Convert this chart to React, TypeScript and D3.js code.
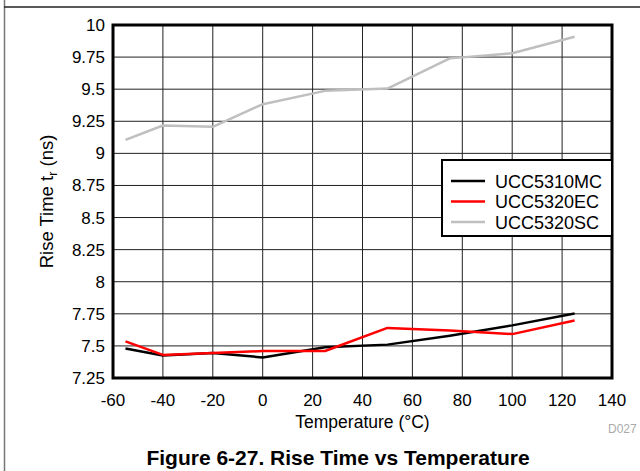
import * as d3 from 'd3';

// Temperatures (°C) where each part was measured.
const temps = [-55, -40, -20, 0, 25, 50, 75, 100, 125];

// Rise time (ns) per series.
const ucc5310mc = [7.48, 7.425, 7.445, 7.41, 7.49, 7.51, 7.58, 7.66, 7.753];
const ucc5320ec = [7.535, 7.43, 7.445, 7.46, 7.46, 7.64, 7.62, 7.592, 7.698];
const ucc5320sc = [9.105, 9.217, 9.207, 9.383, 9.487, 9.505, 9.74, 9.78, 9.908];

const seriesNames = ['UCC5310MC', 'UCC5320EC', 'UCC5320SC'];
const xTicks = [-60, -40, -20, 0, 20, 40, 60, 80, 100, 120, 140];
const yTicks = [7.25, 7.5, 7.75, 8, 8.25, 8.5, 8.75, 9, 9.25, 9.5, 9.75, 10];

const COLORS = ['#000000', '#ff0000', '#bfbfbf'];
const FONT = '"Liberation Sans", Arial, Helvetica, sans-serif';

const W = 640;
const H = 471;
const PLOT = { left: 113, right: 612, top: 25, bottom: 378 };

export default function App() {
  const x = d3.scaleLinear().domain([-60, 140]).range([PLOT.left, PLOT.right]);
  const y = d3.scaleLinear().domain([7.25, 10]).range([PLOT.bottom, PLOT.top]);

  const line = d3
    .line<[number, number]>()
    .x((d) => x(d[0]))
    .y((d) => y(d[1]));

  const series = [ucc5310mc, ucc5320ec, ucc5320sc].map((vals) =>
    vals.map((v, i) => [temps[i], v] as [number, number]),
  );

  // Legend box sits against the right plot border.
  const lg = { x: 442, y: 160, w: PLOT.right - 442, h: 76 };

  return (
    <svg
      width={W}
      height={H}
      style={{ position: 'absolute', left: 0, top: 0, background: '#fff' }}
      fontFamily={FONT}
    >
      <rect x={0} y={0} width={W} height={H} fill="#fff" />

      {/* page frame */}
      <line x1={4.5} x2={4.5} y1={0} y2={H} stroke="#777" strokeWidth={1.5} />
      <line x1={4} x2={W} y1={7} y2={7} stroke="#222" strokeWidth={1.5} />

      {/* grid */}
      {xTicks.slice(1, -1).map((t) => (
        <line key={'gx' + t} x1={x(t)} x2={x(t)} y1={PLOT.top} y2={PLOT.bottom} stroke="#222" strokeWidth={1} />
      ))}
      {yTicks.slice(1, -1).map((t) => (
        <line key={'gy' + t} x1={PLOT.left} x2={PLOT.right} y1={y(t)} y2={y(t)} stroke="#222" strokeWidth={1} />
      ))}

      {/* data lines */}
      {series.map((s, i) => (
        <path
          key={seriesNames[i]}
          d={line(s) ?? ''}
          fill="none"
          stroke={COLORS[i]}
          strokeWidth={2.5}
          strokeLinejoin="round"
        />
      ))}

      {/* plot border */}
      <rect
        x={PLOT.left}
        y={PLOT.top}
        width={PLOT.right - PLOT.left}
        height={PLOT.bottom - PLOT.top}
        fill="none"
        stroke="#000"
        strokeWidth={3}
      />

      {/* y tick labels */}
      {yTicks.map((t) => (
        <text key={'ty' + t} x={105} y={y(t) + 6} textAnchor="end" fontSize={17} fill="#000">
          {String(t)}
        </text>
      ))}

      {/* x tick labels */}
      {xTicks.map((t) => (
        <text key={'tx' + t} x={x(t)} y={406} textAnchor="middle" fontSize={17} fill="#000">
          {String(t)}
        </text>
      ))}

      {/* axis titles */}
      <text x={(PLOT.left + PLOT.right) / 2} y={428} textAnchor="middle" fontSize={17.5} fill="#000">
        Temperature (°C)
      </text>
      <text
        transform={`translate(53,${(PLOT.top + PLOT.bottom) / 2}) rotate(-90)`}
        textAnchor="middle"
        fontSize={18.5}
        fill="#000"
      >
        Rise Time t<tspan fontSize={12.5} dy={4}>r</tspan>
        <tspan dy={-4}> (ns)</tspan>
      </text>

      {/* legend */}
      <rect x={lg.x} y={lg.y} width={lg.w} height={lg.h} fill="#fff" stroke="#000" strokeWidth={2} />
      {seriesNames.map((name, i) => {
        const cy = 181 + i * 20.5;
        return (
          <g key={'lg' + name}>
            <line x1={451} x2={485} y1={cy} y2={cy} stroke={COLORS[i]} strokeWidth={2.5} />
            <text x={495} y={cy + 6.5} fontSize={18} fill="#000">
              {name}
            </text>
          </g>
        );
      })}

      <text x={608} y={433} fontSize={12} fill="#aaa">
        D027
      </text>

      {/* caption */}
      <text x={338} y={465} textAnchor="middle" fontSize={21} fontWeight="bold" fill="#000">
        Figure 6-27. Rise Time vs Temperature
      </text>
    </svg>
  );
}
